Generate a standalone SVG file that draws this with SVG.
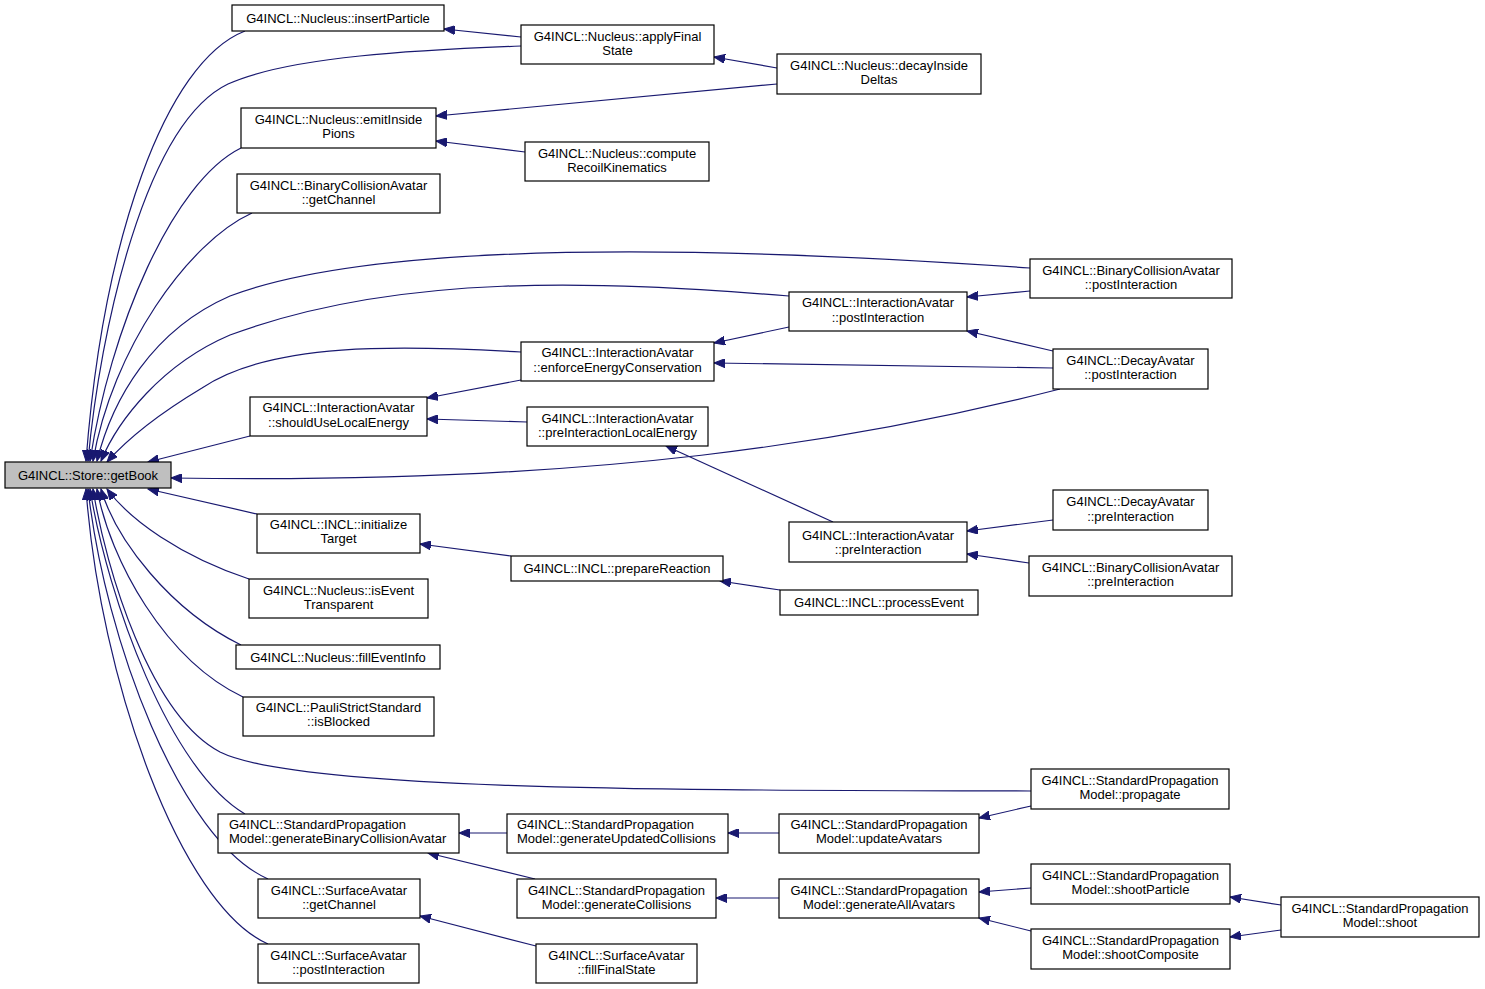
<svg xmlns="http://www.w3.org/2000/svg" width="1485" height="989" viewBox="0 0 1485 989">
<defs>
<style>
.n rect{fill:#fff;stroke:#000;stroke-width:1.2}
.n text{font-family:"Liberation Sans",Arial,sans-serif;font-size:13px;fill:#000;text-anchor:middle}
.n text.l{text-anchor:start}
#n0 rect{fill:#bfbfbf}
.e path{fill:none;stroke:#191970;stroke-width:1.2;marker-end:url(#ah)}
</style>
<marker id="ah" markerUnits="userSpaceOnUse" markerWidth="12" markerHeight="9" refX="11" refY="4.5" orient="auto">
<path d="M0,0 L11,4.5 L0,9 z" fill="#191970" stroke="#191970"/>
</marker>
</defs>
<rect width="1485" height="989" fill="#fff"/>
<g id="edges" class="e">
<path d="M245,31 C165,62 103,240 86,461"/>
<path d="M521,46 C420,50 290,56 228,84 C145,124 100,330 88,461"/>
<path d="M521,37 L444,29"/>
<path d="M777,68 L714,57"/>
<path d="M777,84 L436,116"/>
<path d="M241,148 C172,182 110,330 90,461"/>
<path d="M525,152 L436,141"/>
<path d="M252,213 C188,242 112,350 93,461"/>
<path d="M1030,268 C800,252 400,232 230,296 C152,330 112,400 97,461"/>
<path d="M1030,291 L967,297"/>
<path d="M789,296 C600,281 400,272 230,335 C162,364 118,420 101,461"/>
<path d="M789,327 L714,343"/>
<path d="M1053,351 L967,331"/>
<path d="M1053,368 L714,363"/>
<path d="M1060,389 C860,440 600,485 171,478"/>
<path d="M521,352 C400,345 270,342 202,388 C152,418 122,445 107,462"/>
<path d="M521,380 L427,398"/>
<path d="M250,436 L148,462"/>
<path d="M527,422 L427,419"/>
<path d="M833,522 L666,446"/>
<path d="M1053,520 L967,531"/>
<path d="M1029,563 L967,554"/>
<path d="M257,514 L148,489"/>
<path d="M511,556 L420,544"/>
<path d="M780,590 L720,581"/>
<path d="M249,579 C180,556 130,520 107,489"/>
<path d="M241,645 C170,610 116,540 101,489"/>
<path d="M243,697 C165,660 110,560 97,489"/>
<path d="M1031,791 C700,790 300,792 220,752 C150,715 106,570 93,489"/>
<path d="M1031,806 L979,818"/>
<path d="M245,814 C170,770 108,600 90,489"/>
<path d="M507,833 L459,833"/>
<path d="M779,833 L728,833"/>
<path d="M535,879 L428,853"/>
<path d="M779,898 L716,898"/>
<path d="M1031,888 L979,892"/>
<path d="M1031,931 L979,918"/>
<path d="M1281,905 L1230,897"/>
<path d="M1281,930 L1230,937"/>
<path d="M268,879 C180,840 105,640 88,489"/>
<path d="M536,946 L420,916"/>
<path d="M268,944 C180,905 100,680 86,489"/>
</g>
<g id="n0" class="n"><rect x="5" y="462" width="166" height="26"/><text x="88" y="479.5">G4INCL::Store::getBook</text></g>
<g id="n1" class="n"><rect x="232" y="5" width="212" height="26"/><text x="338" y="22.5">G4INCL::Nucleus::insertParticle</text></g>
<g id="n2" class="n"><rect x="521" y="25" width="193" height="39"/><text x="617.5" y="40.5">G4INCL::Nucleus::applyFinal</text><text x="617.5" y="55">State</text></g>
<g id="n3" class="n"><rect x="777" y="54" width="204" height="40"/><text x="879" y="69.5">G4INCL::Nucleus::decayInside</text><text x="879" y="84">Deltas</text></g>
<g id="n4" class="n"><rect x="241" y="108" width="195" height="40"/><text x="338.5" y="123.5">G4INCL::Nucleus::emitInside</text><text x="338.5" y="138">Pions</text></g>
<g id="n5" class="n"><rect x="525" y="142" width="184" height="39"/><text x="617" y="157.5">G4INCL::Nucleus::compute</text><text x="617" y="172">RecoilKinematics</text></g>
<g id="n6" class="n"><rect x="237" y="174" width="203" height="39"/><text x="338.5" y="189.5">G4INCL::BinaryCollisionAvatar</text><text x="338.5" y="204">::getChannel</text></g>
<g id="n7" class="n"><rect x="1030" y="259" width="202" height="39"/><text x="1131" y="274.5">G4INCL::BinaryCollisionAvatar</text><text x="1131" y="289">::postInteraction</text></g>
<g id="n8" class="n"><rect x="789" y="292" width="178" height="39"/><text x="878" y="307">G4INCL::InteractionAvatar</text><text x="878" y="321.5">::postInteraction</text></g>
<g id="n9" class="n"><rect x="1053" y="349" width="155" height="40"/><text x="1130.5" y="364.5">G4INCL::DecayAvatar</text><text x="1130.5" y="379">::postInteraction</text></g>
<g id="n10" class="n"><rect x="521" y="342" width="193" height="39"/><text x="617.5" y="357">G4INCL::InteractionAvatar</text><text x="617.5" y="371.5">::enforceEnergyConservation</text></g>
<g id="n11" class="n"><rect x="250" y="397" width="177" height="39"/><text x="338.5" y="412">G4INCL::InteractionAvatar</text><text x="338.5" y="426.5">::shouldUseLocalEnergy</text></g>
<g id="n12" class="n"><rect x="527" y="407" width="181" height="39"/><text x="617.5" y="422.5">G4INCL::InteractionAvatar</text><text x="617.5" y="437">::preInteractionLocalEnergy</text></g>
<g id="n13" class="n"><rect x="789" y="522" width="178" height="40"/><text x="878" y="539.5">G4INCL::InteractionAvatar</text><text x="878" y="554">::preInteraction</text></g>
<g id="n14" class="n"><rect x="1053" y="490" width="155" height="40"/><text x="1130.5" y="506">G4INCL::DecayAvatar</text><text x="1130.5" y="520.5">::preInteraction</text></g>
<g id="n15" class="n"><rect x="1029" y="556" width="203" height="40"/><text x="1130.5" y="571.5">G4INCL::BinaryCollisionAvatar</text><text x="1130.5" y="586">::preInteraction</text></g>
<g id="n16" class="n"><rect x="257" y="514" width="163" height="39"/><text x="338.5" y="528.5">G4INCL::INCL::initialize</text><text x="338.5" y="543">Target</text></g>
<g id="n17" class="n"><rect x="511" y="556" width="212" height="25"/><text x="617" y="573">G4INCL::INCL::prepareReaction</text></g>
<g id="n18" class="n"><rect x="780" y="590" width="198" height="25"/><text x="879" y="606.5">G4INCL::INCL::processEvent</text></g>
<g id="n19" class="n"><rect x="249" y="579" width="179" height="39"/><text x="338.5" y="594.5">G4INCL::Nucleus::isEvent</text><text x="338.5" y="609">Transparent</text></g>
<g id="n20" class="n"><rect x="236" y="645" width="204" height="24"/><text x="338" y="661.5">G4INCL::Nucleus::fillEventInfo</text></g>
<g id="n21" class="n"><rect x="243" y="697" width="191" height="39"/><text x="338.5" y="711.5">G4INCL::PauliStrictStandard</text><text x="338.5" y="726">::isBlocked</text></g>
<g id="n22" class="n"><rect x="1031" y="769" width="198" height="40"/><text x="1130" y="784.5">G4INCL::StandardPropagation</text><text x="1130" y="799">Model::propagate</text></g>
<g id="n23" class="n"><rect x="218" y="814" width="241" height="39"/><text class="l" x="229" y="828.5">G4INCL::StandardPropagation</text><text class="l" x="229" y="843">Model::generateBinaryCollisionAvatar</text></g>
<g id="n24" class="n"><rect x="507" y="814" width="221" height="39"/><text class="l" x="517" y="828.5">G4INCL::StandardPropagation</text><text class="l" x="517" y="843">Model::generateUpdatedCollisions</text></g>
<g id="n25" class="n"><rect x="779" y="814" width="200" height="39"/><text x="879" y="828.5">G4INCL::StandardPropagation</text><text x="879" y="843">Model::updateAvatars</text></g>
<g id="n26" class="n"><rect x="258" y="879" width="162" height="39"/><text x="339" y="894.5">G4INCL::SurfaceAvatar</text><text x="339" y="909">::getChannel</text></g>
<g id="n27" class="n"><rect x="517" y="879" width="199" height="39"/><text x="616.5" y="894.5">G4INCL::StandardPropagation</text><text x="616.5" y="909">Model::generateCollisions</text></g>
<g id="n28" class="n"><rect x="779" y="879" width="200" height="39"/><text x="879" y="894.5">G4INCL::StandardPropagation</text><text x="879" y="909">Model::generateAllAvatars</text></g>
<g id="n29" class="n"><rect x="1031" y="864" width="199" height="40"/><text x="1130.5" y="879.5">G4INCL::StandardPropagation</text><text x="1130.5" y="894">Model::shootParticle</text></g>
<g id="n30" class="n"><rect x="1281" y="897" width="198" height="40"/><text x="1380" y="912.5">G4INCL::StandardPropagation</text><text x="1380" y="927">Model::shoot</text></g>
<g id="n31" class="n"><rect x="1031" y="929" width="199" height="40"/><text x="1130.5" y="944.5">G4INCL::StandardPropagation</text><text x="1130.5" y="959">Model::shootComposite</text></g>
<g id="n32" class="n"><rect x="258" y="944" width="161" height="39"/><text x="338.5" y="959.5">G4INCL::SurfaceAvatar</text><text x="338.5" y="974">::postInteraction</text></g>
<g id="n33" class="n"><rect x="536" y="944" width="161" height="39"/><text x="616.5" y="959.5">G4INCL::SurfaceAvatar</text><text x="616.5" y="974">::fillFinalState</text></g>
</svg>
